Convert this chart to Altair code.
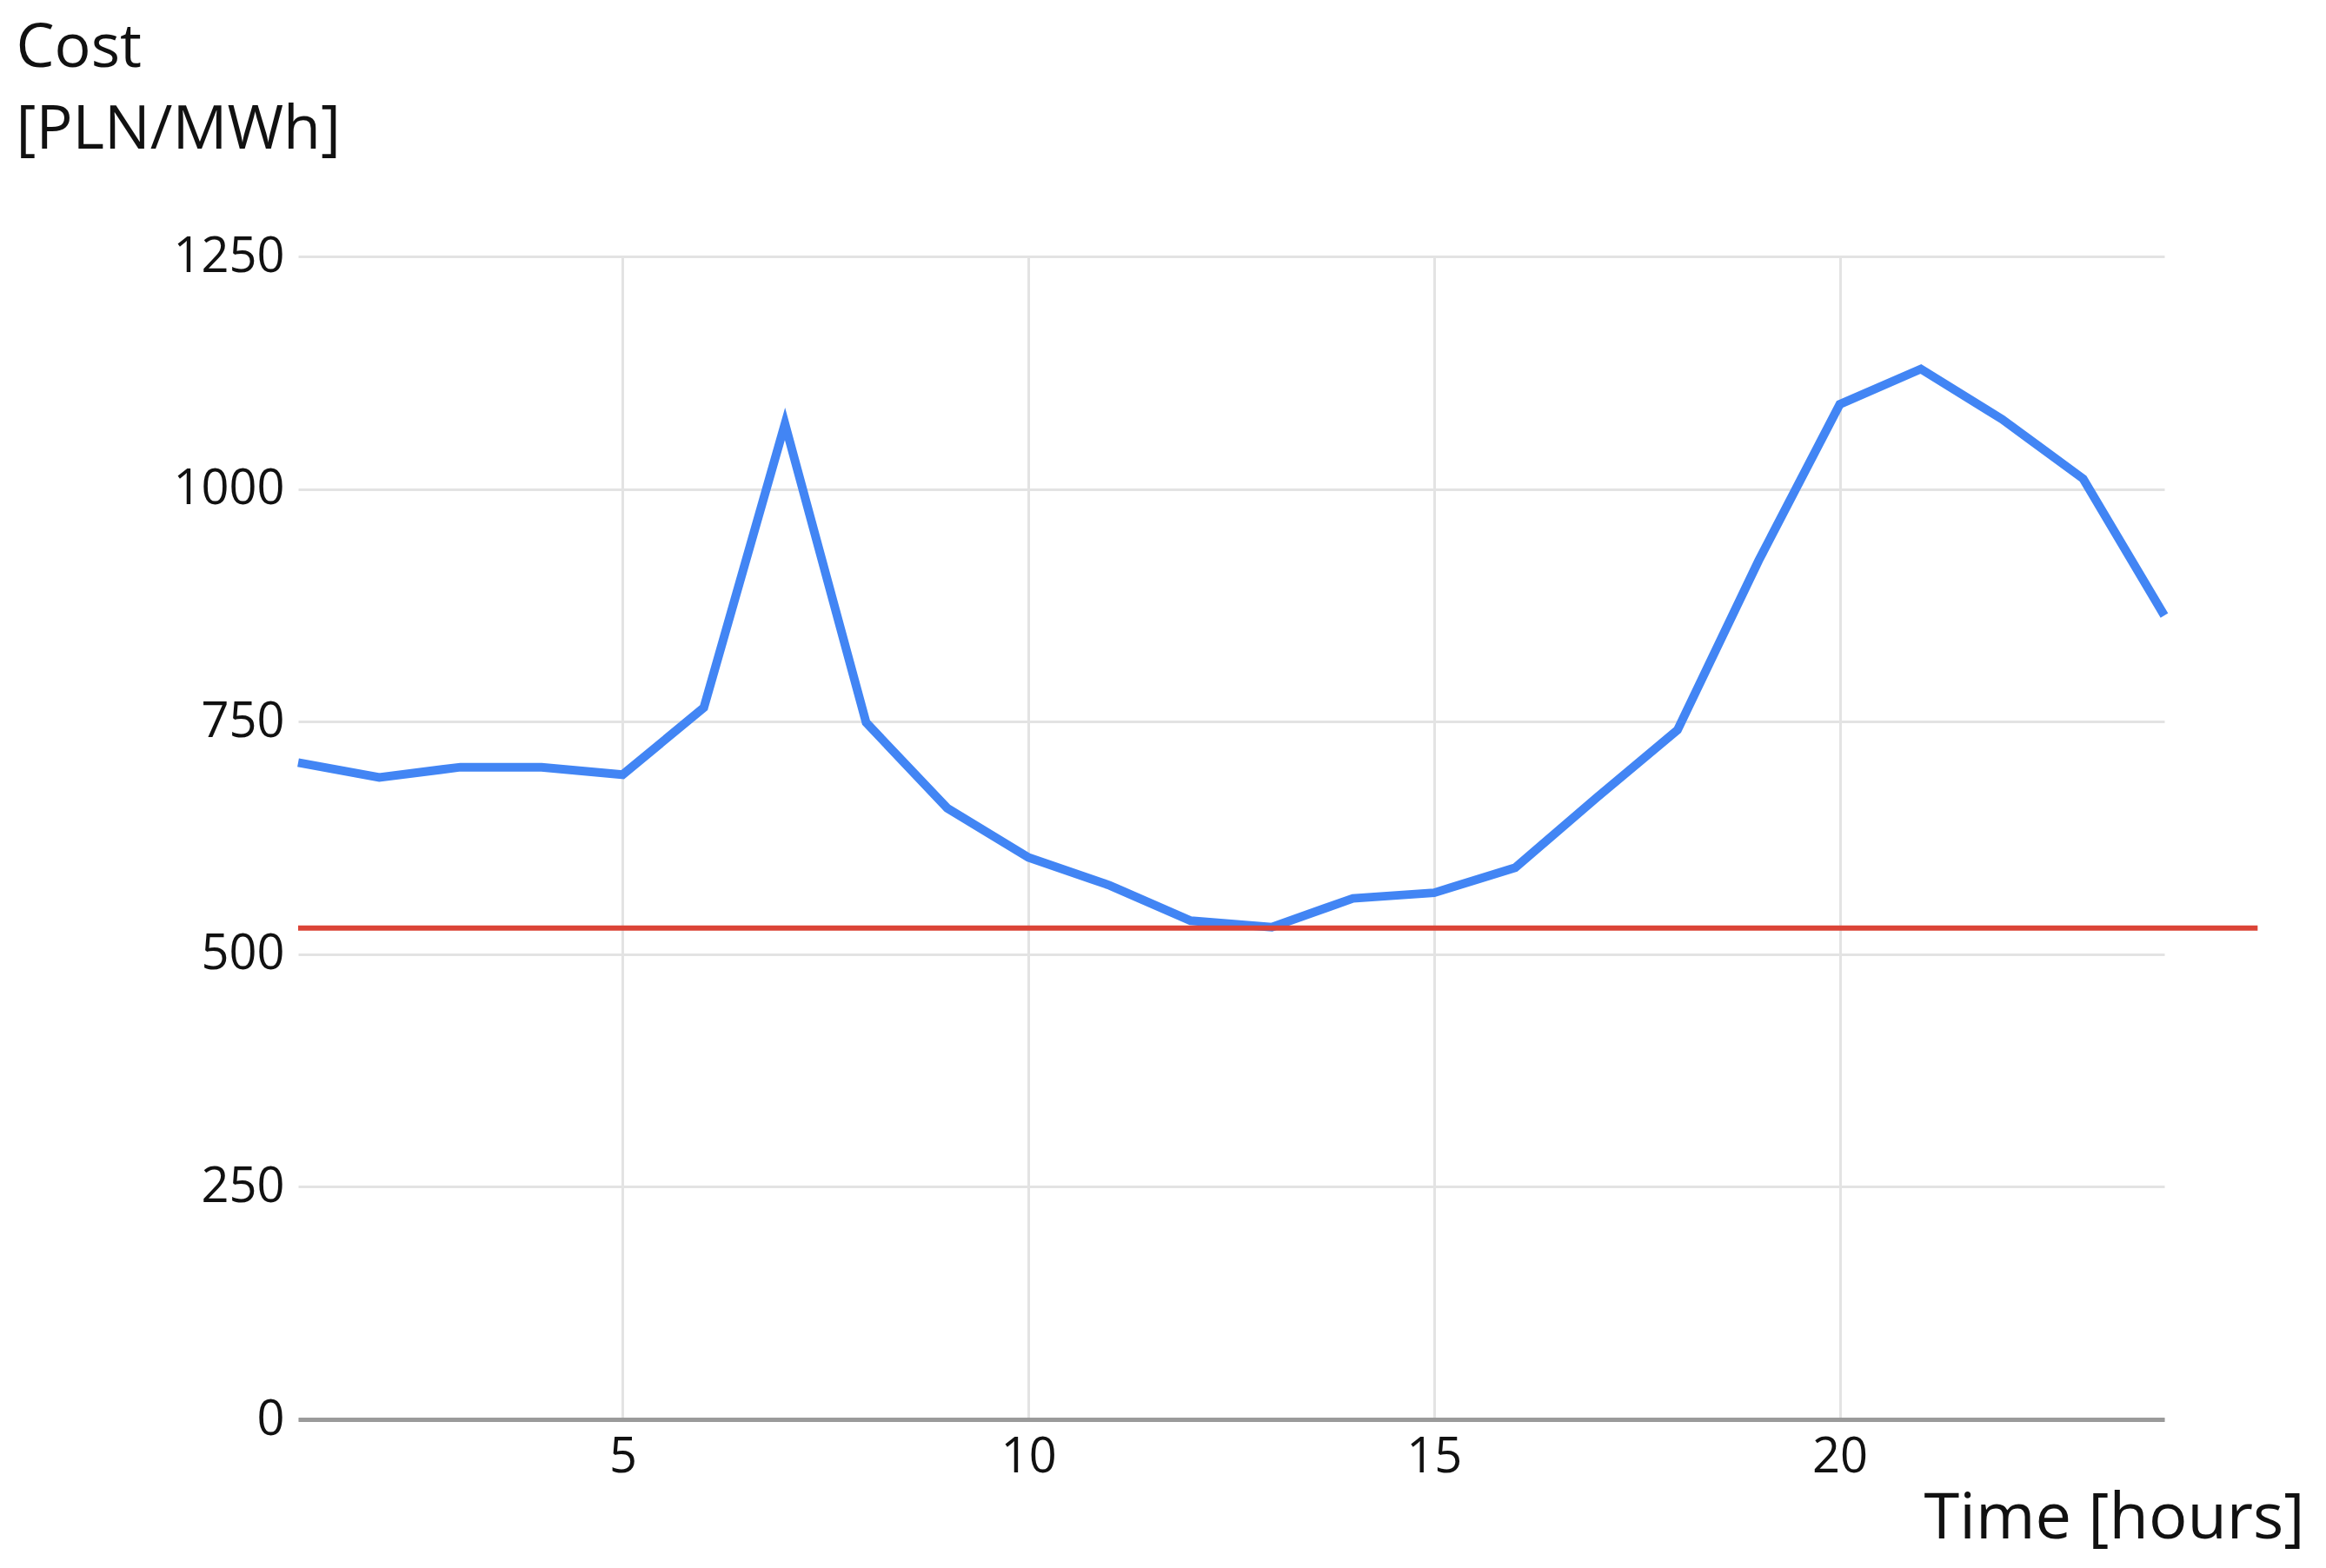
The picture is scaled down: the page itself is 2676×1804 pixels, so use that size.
import altair as alt
import pandas as pd

hours = list(range(1, 25))
cost = [706, 690, 701, 701, 693, 765, 1070, 749, 657, 604, 574, 536,
        529, 560, 566, 593, 668, 741, 923, 1091, 1129, 1075, 1011, 864]

limit_value = [528]
limit_start = [1]
limit_end = [25.15]

x_ticks = [5, 10, 15, 20]
y_ticks = [0, 250, 500, 750, 1000, 1250]

df = pd.DataFrame({"hour": hours, "cost": cost})
df_limit = pd.DataFrame({"x": limit_start, "x2": limit_end, "y": limit_value})

FONT = "Open Sans"

x_scale = alt.Scale(domain=[1, 24], nice=False, zero=False)
y_scale = alt.Scale(domain=[0, 1250], nice=False)

line = alt.Chart(df).mark_line(color="#4285F4", strokeWidth=10, strokeJoin="miter").encode(
    x=alt.X("hour:Q", scale=x_scale,
            axis=alt.Axis(values=x_ticks, format="d", title="Time [hours]", tickSize=0,
                          labelPadding=16, labelFontSize=56, labelFont=FONT,
                          labelColor="#111", domainColor="#9a9a9a", domainWidth=5,
                          gridColor="#e3e3e3", gridWidth=3,
                          titleFont=FONT, titleFontSize=74, titleFontWeight="normal",
                          titleColor="#111", titleAlign="right", titleAnchor="end",
                          titleX=2308, titleY=136, titleBaseline="alphabetic")),
    y=alt.Y("cost:Q", scale=y_scale,
            axis=alt.Axis(values=y_ticks, format="d", title=["Cost", "[PLN/MWh]"], tickSize=0,
                          labelPadding=16, labelFontSize=56, labelFont=FONT,
                          labelColor="#111", domain=False,
                          gridColor="#e3e3e3", gridWidth=3,
                          titleFont=FONT, titleFontSize=70, titleFontWeight="normal",
                          titleColor="#111", titleAngle=0, titleAlign="left",
                          titleBaseline="top", titleX=-325, titleY=-274,
                          titleLineHeight=94)),
)

limit = alt.Chart(df_limit).mark_rule(color="#DB4437", strokeWidth=6, clip=False).encode(
    x=alt.X("x:Q", scale=x_scale),
    x2="x2:Q",
    y=alt.Y("y:Q", scale=y_scale),
)

chart = (line + limit).properties(
    width=2147, height=1338,
    padding={"left": 335, "top": 287, "right": 176, "bottom": 168},
    autosize=alt.AutoSizeParams(type="none"),
    background="white",
).configure_view(stroke=None)

chart.save("out.html", embed_options={"renderer": "svg", "actions": False})
